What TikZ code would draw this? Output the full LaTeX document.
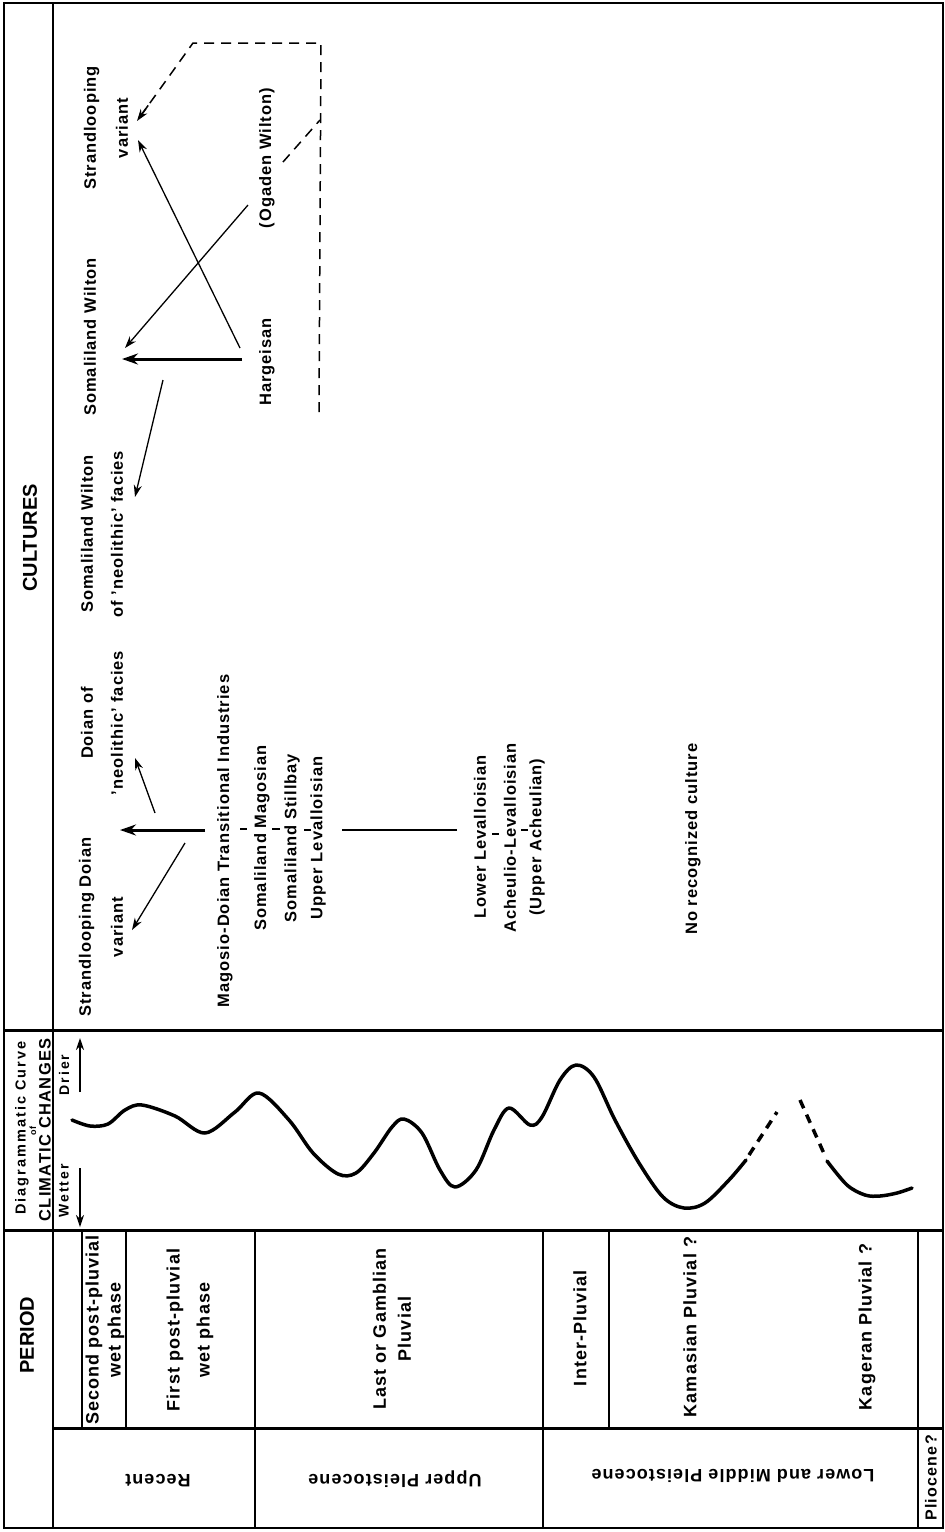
\documentclass[tikz,border=0pt]{standalone}
\usepackage{fontspec}
\setmainfont{Liberation Sans}
\newcommand{\cultfont}{\fontsize{16.5}{20}\selectfont\bfseries\addfontfeature{LetterSpace=6}}
\newcommand{\perfont}{\fontsize{18}{22}\selectfont\bfseries\addfontfeature{LetterSpace=6}}
\newcommand{\pliofont}{\fontsize{16}{18}\selectfont\bfseries\addfontfeature{LetterSpace=8}}
\newcommand{\diagfont}{\fontsize{14.5}{16}\selectfont\bfseries\addfontfeature{LetterSpace=14}}
\newcommand{\climfont}{\fontsize{16.5}{18}\selectfont\bfseries\addfontfeature{LetterSpace=8}}
\newcommand{\axisfont}{\fontsize{14}{15}\selectfont\bfseries\addfontfeature{LetterSpace=14}}
\usetikzlibrary{arrows.meta,calc}
\tikzset{
  base/.style={inner sep=0pt, align=center},
  cult/.style={base, rotate=90, font=\cultfont},
  per/.style={base, rotate=90, font=\perfont},
  flip/.style={base, rotate=180, font=\perfont},
  hdr/.style={base, rotate=90, font=\bfseries\fontsize{20}{24}\selectfont},
  diagcap/.style={base, rotate=90, font=\diagfont},
  climcap/.style={base, rotate=90, font=\climfont},
  smalltxt/.style={base, rotate=90, font=\bfseries\fontsize{9}{10}\selectfont},
  axistxt/.style={base, rotate=90, font=\axisfont},
  rule/.style={line width=1.3pt},
  heavy/.style={line width=3pt},
  thinarr/.style={line width=1.3pt, -{Stealth[length=12pt,width=8pt]}},
  thickarr/.style={line width=3pt, -{Stealth[length=16pt,width=11pt]}},
  dasharr/.style={line width=1.5pt, dash pattern=on 10pt off 7pt},
  tickmark/.style={line width=1.5pt},
  curve/.style={line width=3.5pt, line cap=round, line join=round},
  curvedash/.style={line width=3.5pt, dash pattern=on 9pt off 7pt}
}
\begin{document}
\begin{tikzpicture}[x=1pt,y=-1pt]
\useasboundingbox (0,0) rectangle (945,1532);
\fill[white] (0,0) rectangle (945,1532);

% ---------- frame and rules ----------
\draw[rule] (4,3) rectangle (943,1528);
\draw[rule] (53,3) -- (53,1528);
\draw[heavy] (4,1030) -- (943,1030);
\draw[heavy] (4,1230) -- (943,1230);
\draw[heavy] (53,1428) -- (943,1428);
\draw[rule] (82,1230) -- (82,1428);
\draw[rule] (126,1230) -- (126,1428);
\draw[rule] (255,1230) -- (255,1528);
\draw[rule] (543,1230) -- (543,1528);
\draw[rule] (609,1230) -- (609,1428);
\draw[rule] (918,1230) -- (918,1528);

% ---------- headers ----------
\node[hdr] (hcult) at (30,538) {CULTURES};
\node[hdr] (hper) at (27,1335) {PERIOD};
\node[diagcap] (hdiag) at (22,1128) {Diagrammatic Curve};
\node[smalltxt] (hof) at (33,1131) {of};
\node[climcap] (hclim) at (45,1130) {CLIMATIC CHANGES};
\node[axistxt] (drier) at (64,1075) {Drier};
\node[axistxt] (wetter) at (64,1191) {Wetter};
\coordinate (dry0) at (80,1092);
\coordinate (dry1) at (80,1038);
\coordinate (wet0) at (80,1168);
\coordinate (wet1) at (80,1227);
\draw[thinarr] (dry0) -- (dry1);
\draw[thinarr] (wet0) -- (wet1);

% ---------- climatic curve ----------
\draw[curve] plot[smooth, tension=0.55] coordinates {
 (72,1120) (90,1126) (108,1124) (125,1110) (142,1105) (175,1116) (205,1133)
 (235,1112) (259,1093) (289,1120) (313,1153) (338,1174) (356,1173)
 (374,1153) (392,1127) (404,1119) (422,1133) (440,1170) (455,1187)
 (476,1170) (494,1130) (509,1108) (530,1125) (542,1117) (560,1080)
 (576,1065) (594,1077) (615,1120) (639,1163) (663,1197) (684,1208)
 (705,1203) (729,1180) (746,1160)};
\coordinate (cd1a) at (749,1155);
\coordinate (cd1b) at (777,1112);
\coordinate (cd2a) at (800,1100);
\coordinate (cd2b) at (826,1158);
\draw[curvedash] (cd1a) -- (cd1b);
\draw[curvedash] (cd2a) -- (cd2b);
\draw[curve] plot[smooth, tension=0.55] coordinates {
 (827,1161) (847,1185) (865,1195) (880,1196) (897,1193) (912,1188)};

% ---------- period cells ----------
\node[per] (second) at (105,1330) {Second post-pluvial\\ wet phase};
\node[per] (first) at (190,1330) {First post-pluvial\\[8pt] wet phase};
\node[per] (last) at (392,1329) {Last or Gamblian\\[3pt] Pluvial};
\node[per] (inter) at (580,1328) {Inter-Pluvial};
\node[per] (kam) at (690,1327) {Kamasian Pluvial ?};
\node[per] (kag) at (867,1327) {Kageran Pluvial ?};
\node[flip] (recent) at (158,1481) {Recent};
\node[flip] (upper) at (395,1479) {Upper Pleistocene};
\node[flip] (lower) at (733,1476) {Lower and Middle Pleistocene};
\node[base, rotate=90, font=\pliofont] (plio) at (931,1478) {Pliocene?};

% ---------- cultures ----------
\node[cult] (strv) at (106,128) {Strandlooping\\[12pt] variant};
\node[cult] (sw) at (90,337) {Somaliland Wilton};
\node[cult] (ogaden) at (267,158) {(Ogaden Wilton)};
\node[cult] (harg) at (267,362) {Hargeisan};
\node[cult] (swn) at (102,534) {Somaliland Wilton\\[10pt] of ’neolithic’ facies};
\node[cult] (doin) at (102,723) {Doian of\\[10pt] ’neolithic’ facies};
\node[cult] (strd) at (101,927) {Strandlooping Doian\\[12pt] variant};
\node[cult] (mag) at (225,841) {Magosio-Doian Transitional Industries};
\node[cult] (smag) at (262,838) {Somaliland Magosian};
\node[cult] (sstill) at (292,838) {Somaliland Stillbay};
\node[cult] (ulev) at (318,838) {Upper Levalloisian};
\node[cult] (llev) at (480,837) {Lower Levalloisian};
\node[cult] (achl) at (510,838) {Acheulio-Levalloisian};
\node[cult] (uach) at (537,837) {(Upper Acheulian)};
\node[cult] (norec) at (693,839) {No recognized culture};

% tick connectors between stacked names
\draw[tickmark] (240,829) -- (247,829);
\draw[tickmark] (272,829) -- (280,829);
\draw[tickmark] (304,830) -- (311,830);
\draw[tickmark] (492,834) -- (499,834);
\draw[tickmark] (521,830) -- (528,830);

% arrows, lower group
\coordinate (l0) at (457,830);
\coordinate (l1) at (342,830);
\draw[line width=2pt] (l0) -- (l1);
\coordinate (m0) at (205,830);
\coordinate (m1) at (120,830);
\draw[thickarr] (m0) -- (m1);
\coordinate (s0) at (185,843);
\coordinate (s1) at (132,930);
\draw[thinarr] (s0) -- (s1);
\coordinate (n0) at (155,813);
\coordinate (n1) at (135,758);
\draw[thinarr] (n0) -- (n1);

% arrows, upper group
\coordinate (h0) at (242,359);
\coordinate (h1) at (122,359);
\draw[thickarr] (h0) -- (h1);
\coordinate (h2) at (240,348);
\coordinate (h3) at (138,140);
\draw[thinarr] (h2) -- (h3);
\coordinate (o0) at (248,205);
\coordinate (o1) at (125,348);
\draw[thinarr] (o0) -- (o1);
\coordinate (w0) at (163,380);
\coordinate (w1) at (135,497);
\draw[thinarr] (w0) -- (w1);
\coordinate (d0) at (319,412);
\coordinate (d1) at (321,43);
\coordinate (d2) at (193,43);
\coordinate (d3) at (137,121);
\coordinate (d4) at ($(d2)!0.8!(d3)$);
\draw[dasharr] (d0) -- (d1) -- (d2) -- (d3);
\draw[line width=1.5pt, -{Stealth[length=12pt,width=8pt]}] (d4) -- (d3);
\coordinate (g0) at (283,162);
\coordinate (g1) at (320,120);
\draw[dasharr] (g0) -- (g1);
\end{tikzpicture}
\end{document}
